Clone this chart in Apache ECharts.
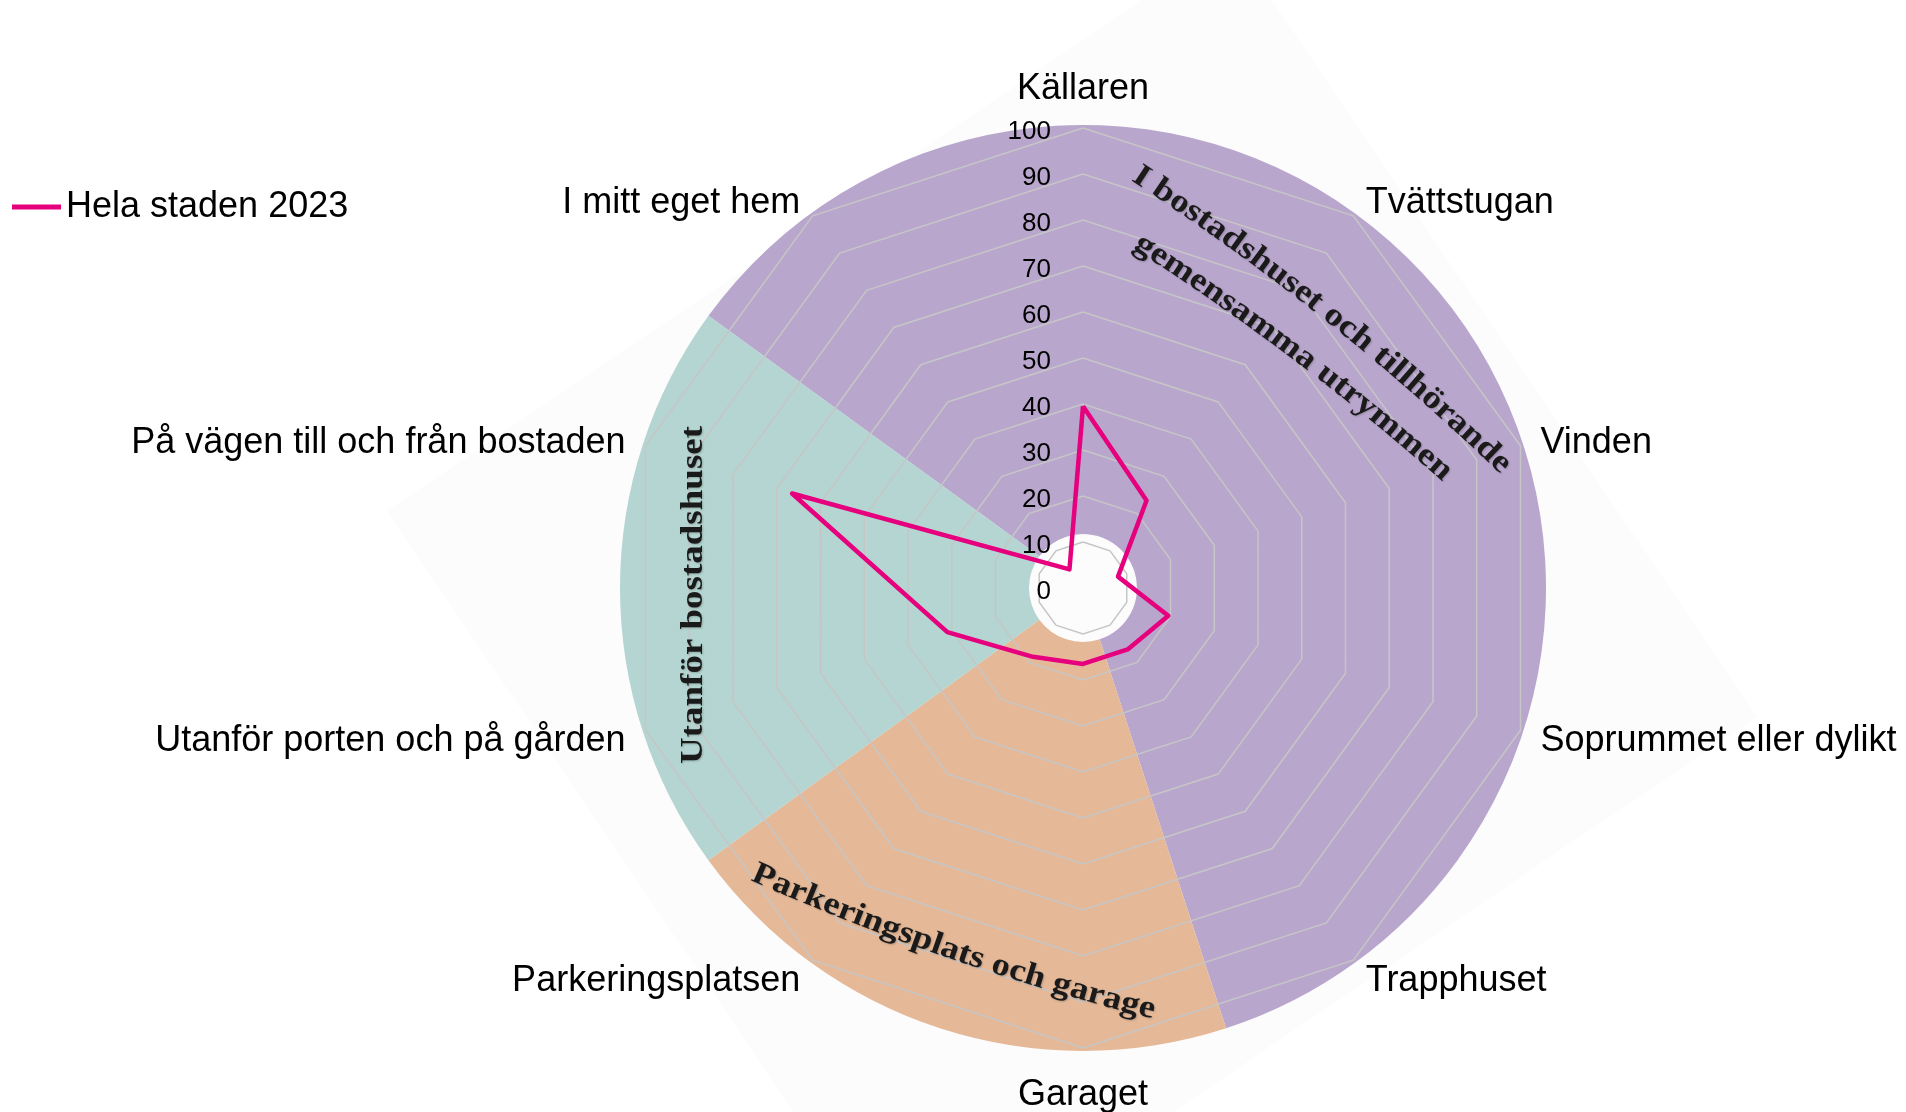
<!DOCTYPE html>
<html>
<head>
<meta charset="utf-8">
<title>Hela staden 2023</title>
<script src="https://cdn.jsdelivr.net/npm/echarts@6/dist/echarts.min.js"></script>
<style>
  html, body { margin: 0; padding: 0; background: #fff; }
  #chart { width: 1906px; height: 1112px; }
</style>
</head>
<body>
<div id="chart"></div>
<script>
// categories, clockwise from the top
const categories = [
    'Källaren',
    'Tvättstugan',
    'Vinden',
    'Soprummet eller dylikt',
    'Trapphuset',
    'Garaget',
    'Parkeringsplatsen',
    'Utanför porten och på gården',
    'På vägen till och från bostaden',
    'I mitt eget hem',
];
const values2023 = [39.5, 23.5, 8, 19.5, 16.5, 16.5, 18.5, 31, 66.5, 5];
const seriesName = 'Hela staden 2023';

const axisMin = 0;
const axisMax = 100;
const axisStep = 10;

// background sectors: how many categories each group covers, clockwise,
// the first one starting at "I mitt eget hem"
const groupNames = ['I bostadshuset och tillhörande gemensamma utrymmen', 'Parkeringsplats och garage', 'Utanför bostadshuset'];
const groupSizes = [6, 2, 2];
const groupStartIndex = 9;

const groupColors = ['#b9a6cd', '#e5b998', '#b4d5d1'];
const lineColor = '#e6007e';
const sansFont = '"Liberation Sans", Arial, sans-serif';

const center = [1083, 588];
const radius = 460;

// echarts lays radar indicators out counter-clockwise, so flip the order
const order = categories.map((_, i) => (categories.length - i) % categories.length);
const step = 360 / categories.length;
const pieStart = (90 - (groupStartIndex - 0.5) * step + 720) % 360;

const ctx = document.createElement('canvas').getContext('2d');
const measure = (font, str) => {
    ctx.font = font;
    return ctx.measureText(str).width;
};

// places text letter by letter along a gentle arc (radius Infinity = straight)
function arcText(text, cx, cy, angleDeg, arcRadius, length, fontSize) {
    const font = 'bold ' + fontSize + 'px "Liberation Serif", serif';
    const chars = Array.from(text);
    const widths = chars.map((c) => measure(font, c));
    const total = widths.reduce((a, b) => a + b, 0);
    const sx = length / total;
    const th0 = (angleDeg * Math.PI) / 180;
    const els = [];
    let acc = 0;
    chars.forEach((c, i) => {
        const s = -length / 2 + (acc + widths[i] / 2) * sx;
        acc += widths[i];
        if (c === ' ') return;
        let th = th0;
        let x;
        let y;
        if (!isFinite(arcRadius)) {
            x = cx + s * Math.cos(th0);
            y = cy + s * Math.sin(th0);
        } else {
            th = th0 + s / arcRadius;
            x = cx + arcRadius * (Math.sin(th) - Math.sin(th0));
            y = cy - arcRadius * (Math.cos(th) - Math.cos(th0));
        }
        els.push({
            type: 'text',
            x,
            y,
            rotation: -th,
            scaleX: sx,
            z: 20,
            silent: true,
            style: {
                text: c,
                font,
                fill: '#1a1a1a',
                align: 'center',
                verticalAlign: 'middle',
                textShadowColor: 'rgba(0,0,0,0.2)',
                textShadowBlur: 2,
                textShadowOffsetX: 1,
                textShadowOffsetY: 1,
            },
        });
    });
    return els;
}

const chart = echarts.init(document.getElementById('chart'));

chart.setOption({
    animation: false,
    backgroundColor: '#fff',
    legend: {
        data: [seriesName],
        left: 12,
        top: 189,
        padding: 0,
        icon: 'rect',
        itemWidth: 49,
        itemHeight: 5,
        textStyle: { fontSize: 36, color: '#000', fontFamily: sansFont },
    },
    radar: {
        center,
        radius,
        startAngle: 90,
        splitNumber: (axisMax - axisMin) / axisStep,
        shape: 'polygon',
        z: 2,
        indicator: order.map((i) => ({ name: categories[i], min: axisMin, max: axisMax })),
        nameGap: 21,
        axisName: {
            color: '#000',
            fontSize: 36,
            fontFamily: sansFont,
            formatter: (name) => '{n|' + name + '}',
            rich: { n: { color: '#000', fontSize: 36, fontFamily: sansFont, padding: [8, 0, 0, 0] } },
        },
        axisLine: { show: false },
        axisTick: { show: false },
        axisLabel: { show: false },
        splitArea: { show: false },
        splitLine: { lineStyle: { color: '#c6c6c6', width: 1.5 } },
    },
    polar: { center, radius },
    angleAxis: { show: false, startAngle: 90 },
    radiusAxis: {
        min: axisMin,
        max: axisMax,
        interval: axisStep,
        z: 4,
        axisLine: { show: false },
        axisTick: { show: false },
        splitLine: { show: false },
        axisLabel: {
            margin: 32,
            fontSize: 26,
            color: '#000',
            fontFamily: sansFont,
            formatter: '{t|{value}}',
            rich: { t: { color: '#000', fontSize: 26, fontFamily: sansFont, padding: [8, 0, 0, 0] } },
        },
    },
    graphic: [
        {
            type: 'polygon',
            z: -10,
            silent: true,
            shape: { points: [[387, 511], [1231, -60], [1757, 717], [913, 1288]] },
            style: { fill: '#fcfcfc' },
        },
        ...arcText('I bostadshuset och tillhörande', 1328, 312, 38.5, 2500, 475, 32),
        ...arcText('gemensamma utrymmen', 1297, 352, 37, 2500, 390, 32),
        ...arcText('Parkeringsplats och garage', 951, 950, 19, -2500, 425, 32),
        ...arcText('Utanför bostadshuset', 694, 595, -90, Infinity, 338, 32),
    ],
    series: [
        {
            type: 'pie',
            z: 1,
            silent: true,
            center,
            radius: [54, 463],
            startAngle: pieStart,
            clockwise: true,
            label: { show: false },
            labelLine: { show: false },
            emphasis: { disabled: true },
            data: groupNames.map((name, i) => ({
                name,
                value: groupSizes[i],
                itemStyle: { color: groupColors[i] },
            })),
        },
        {
            type: 'radar',
            z: 3,
            symbol: 'none',
            lineStyle: { color: lineColor, width: 4.5 },
            itemStyle: { color: lineColor },
            data: [{ name: seriesName, value: order.map((i) => values2023[i]) }],
        },
    ],
});

window.addEventListener('resize', chart.resize);
</script>
</body>
</html>
